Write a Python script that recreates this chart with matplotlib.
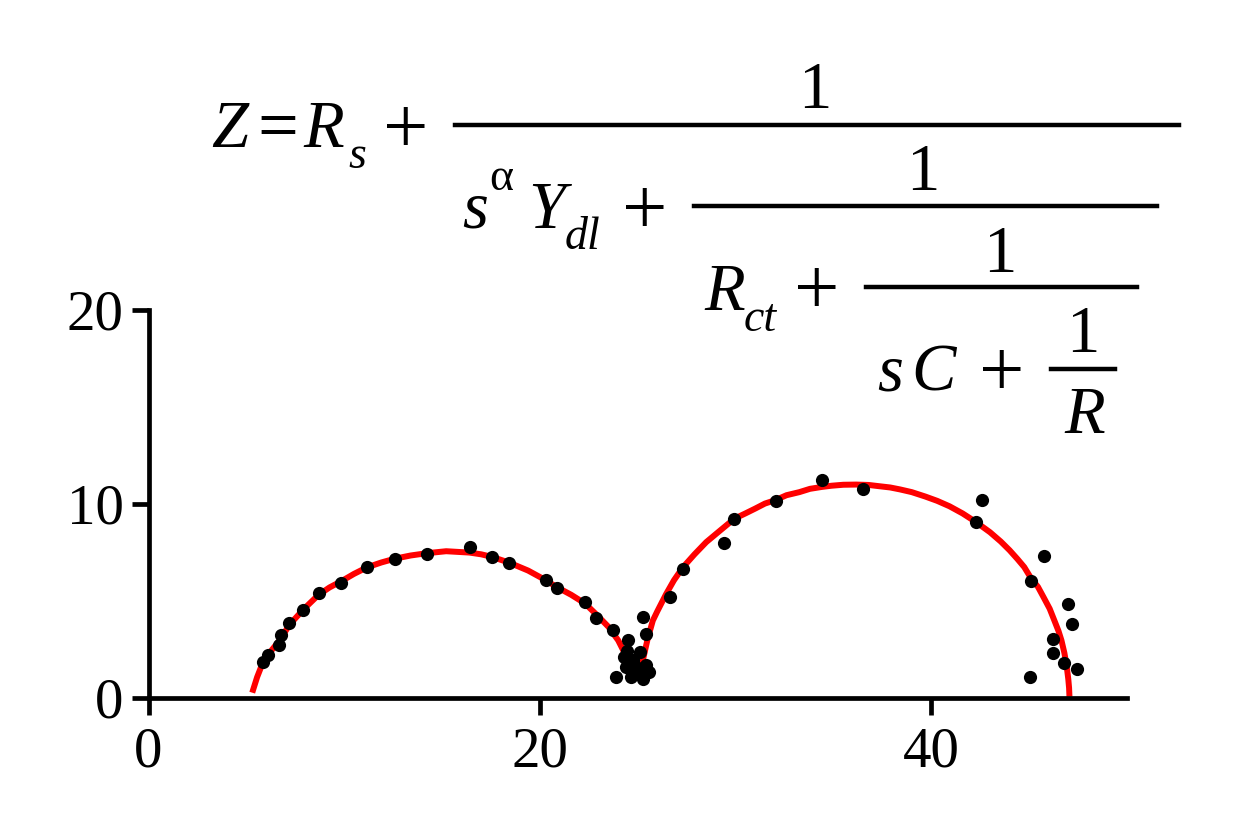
import matplotlib
matplotlib.use("Agg")
import matplotlib.pyplot as plt
from matplotlib.lines import Line2D

# measured impedance points (Z', -Z'')
z_re = [5.84, 6.10, 6.66, 6.78, 7.20, 7.92, 8.69, 9.85, 11.17, 12.61, 14.24, 16.44,
        17.54, 18.41, 20.29, 20.86, 22.31, 22.87, 23.76, 24.49,
        24.32, 25.09, 23.89, 24.66, 25.26, 25.60, 25.43, 24.92, 24.75, 24.45, 25.00, 24.40,
        25.29, 25.40, 26.66, 27.30, 29.43, 29.94, 32.04, 34.42, 36.50, 42.60, 42.29,
        45.78, 45.10, 46.98, 47.18, 46.21, 46.21, 46.76, 47.45, 45.05]
z_im = [1.84, 2.18, 2.69, 3.21, 3.84, 4.52, 5.37, 5.89, 6.76, 7.17, 7.43, 7.78,
        7.26, 6.95, 6.06, 5.65, 4.91, 4.11, 3.46, 2.95,
        2.09, 2.35, 1.06, 1.07, 0.98, 1.32, 1.67, 1.58, 1.92, 2.40, 1.20, 1.60,
        4.14, 3.29, 5.21, 6.63, 7.99, 9.19, 10.16, 11.24, 10.76, 10.18, 9.05,
        7.31, 5.99, 4.83, 3.81, 3.00, 2.30, 1.78, 1.45, 1.07]

# fitted curve
fit_re = [5.30, 5.55, 5.84, 6.10, 6.70, 7.20, 7.92, 8.69, 9.25, 9.85, 10.50, 11.17,
          11.90, 12.61, 13.40, 14.24, 15.21, 16.40, 17.00, 17.54, 18.41, 19.40, 20.29,
          20.86, 21.60, 22.31, 22.87, 23.50, 24.00, 24.35, 24.60, 24.80, 25.05, 25.26,
          25.50, 25.77, 26.00, 26.45, 26.85, 27.30, 27.90, 28.50, 29.20, 29.94, 30.50,
          31.00, 31.50, 32.04, 32.60, 33.26, 33.80, 34.42, 34.90, 35.50, 36.16, 36.80,
          37.30, 37.90, 38.40, 39.00, 39.70, 40.30, 40.93, 41.60, 42.29, 43.00, 43.55,
          44.00, 44.40, 44.75, 45.10, 45.45, 45.75, 46.05, 46.29, 46.50, 46.65, 46.80,
          46.92, 47.00, 47.04, 47.06]
fit_im = [0.25, 1.05, 1.80, 2.20, 2.95, 3.75, 4.55, 5.30, 5.68, 6.00, 6.38, 6.72,
          6.97, 7.17, 7.33, 7.45, 7.55, 7.48, 7.39, 7.26, 6.97, 6.55, 6.06,
          5.70, 5.30, 4.85, 4.30, 3.65, 2.95, 2.25, 1.60, 1.35, 1.45, 1.92,
          3.00, 3.97, 4.45, 5.34, 6.05, 6.71, 7.39, 8.02, 8.61, 9.23, 9.50,
          9.75, 10.01, 10.19, 10.44, 10.60, 10.77, 10.87, 10.93, 10.98, 10.99, 10.97,
          10.91, 10.84, 10.74, 10.60, 10.37, 10.15, 9.87, 9.50, 9.05, 8.53, 8.05,
          7.60, 7.15, 6.73, 6.15, 5.71, 5.15, 4.58, 3.97, 3.43, 2.95, 2.30,
          1.60, 0.95, 0.50, 0.04]

x_ticks = [0, 20, 40]
y_ticks = [0, 10, 20]

W, H = 1243, 817
serif = "Liberation Serif"

fig = plt.figure(figsize=(W / 100, H / 100), dpi=100)
ax = fig.add_axes([148.5 / W, 1 - 697.5 / H, (1127 - 148.5) / W, (697.5 - 310) / H])

ax.plot(fit_re, fit_im, color="red", lw=4.3, zorder=2,
        solid_capstyle="butt", solid_joinstyle="round")
ax.plot(z_re, z_im, "o", color="black", ms=9.5, mew=0, zorder=3)

ax.set_xlim(0, 50)
ax.set_ylim(0, 20)
ax.set_xticks(x_ticks)
ax.set_yticks(y_ticks)
for s in ["top", "right"]:
    ax.spines[s].set_visible(False)
for s in ["left", "bottom"]:
    ax.spines[s].set_linewidth(3.4)
ax.tick_params(direction="out", length=12, width=3.4, labelsize=41)
ax.tick_params(axis="x", pad=9)
ax.tick_params(axis="y", pad=6)
for lab in ax.get_xticklabels() + ax.get_yticklabels():
    lab.set_fontfamily(serif)


# equation, placed in pixel coordinates
def put(txt, x, y, italic=True, size=48, ha="left"):
    fig.text(x / W, 1 - y / H, txt, ha=ha, va="baseline", fontsize=size,
             fontfamily=serif, fontstyle="italic" if italic else "normal")


def plus(x, yc):
    put("+", x, yc + 26, italic=False, size=58)


def bar(x0, x1, y):
    fig.add_artist(Line2D([x0 / W, x1 / W], [1 - y / H, 1 - y / H],
                          transform=fig.transFigure, color="black", lw=3.2))


put("Z", 211, 147)
put("=", 257, 149, italic=False, size=52)
put("R", 303, 147)
put("s", 348, 168, size=33)
plus(383, 127)
bar(455, 1179, 125)
put("1", 815, 108, italic=False, ha="center")

put("s", 462, 228)
put("α", 489, 190, italic=False, size=33)
put("Y", 528, 228)
put("dl", 565, 249, size=33)
plus(622, 208)
bar(694, 1157, 206)
put("1", 923, 190, italic=False, ha="center")

put("R", 704, 310)
put("ct", 744, 331, size=33)
plus(794, 288)
bar(866, 1137, 287)
put("1", 1000, 272, italic=False, ha="center")

put("s", 877, 391)
put("C", 911, 391)
plus(979, 370)
bar(1051, 1115, 369)
put("1", 1083, 352, italic=False, ha="center")
put("R", 1085, 433, ha="center")

fig.savefig("out.png", dpi=100)
